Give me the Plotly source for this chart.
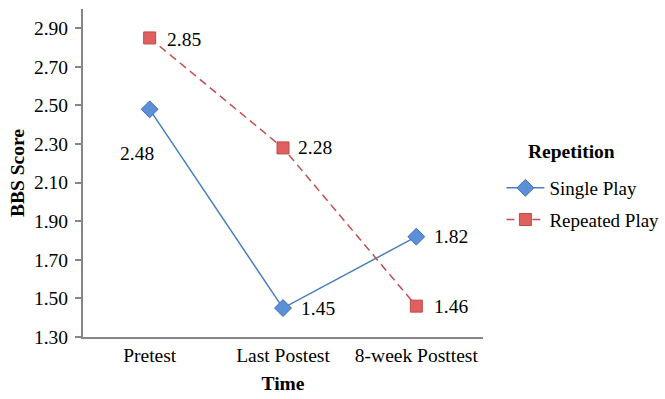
import plotly.graph_objects as go

# Mean BBS scores by measurement time and repetition condition
times = ["Pretest", "Last Postest", "8-week Posttest"]
single_play = [2.48, 1.45, 1.82]
repeated_play = [2.85, 2.28, 1.46]
y_ticks = [1.30, 1.50, 1.70, 1.90, 2.10, 2.30, 2.50, 2.70, 2.90]

FONT = "Liberation Serif, Times New Roman, serif"
FS = 19.5
AXIS_GREY = "#868686"

fig = go.Figure()
fig.add_trace(go.Scatter(
    x=times, y=single_play, name="Single Play", mode="lines+markers",
    legendgroup="single",
    line=dict(color="#4A7EBB", width=1.5),
    marker=dict(symbol="diamond", size=13, color="#5B8FD8",
                line=dict(color="#3D6FB4", width=1)),
))
fig.add_trace(go.Scatter(
    x=times, y=repeated_play, name="Repeated Play", mode="lines+markers",
    legendgroup="repeated",
    line=dict(color="#C0504D", width=1.5, dash="8px,5px"),
    marker=dict(symbol="square", size=12, color="#E06060",
                line=dict(color="#BE4B48", width=1)),
))

# value labels next to each point (shift in pixels from the point)
single_shift = [(-13, -44), (16, 0), (16, 0)]
repeated_shift = [(15, -2), (13, 0), (16, 0)]
single_anchor = ["center", "left", "left"]
for t, v, (dx, dy), xa in zip(times, single_play, single_shift, single_anchor):
    fig.add_annotation(x=t, y=v, text=f"{v:.2f}", showarrow=False,
                       xanchor=xa, yanchor="middle", xshift=dx, yshift=dy,
                       font=dict(family=FONT, size=FS, color="black"))
for t, v, (dx, dy) in zip(times, repeated_play, repeated_shift):
    fig.add_annotation(x=t, y=v, text=f"{v:.2f}", showarrow=False,
                       xanchor="left", yanchor="middle", xshift=dx, yshift=dy,
                       font=dict(family=FONT, size=FS, color="black"))

# legend heading
fig.add_annotation(xref="paper", yref="paper", x=1.222, y=0.567,
                   text="<b>Repetition</b>", showarrow=False,
                   xanchor="center", yanchor="middle",
                   font=dict(family=FONT, size=FS, color="black"))

fig.update_layout(
    width=665, height=399,
    margin=dict(l=83, r=182, t=9, b=62, autoexpand=False),
    paper_bgcolor="white", plot_bgcolor="white",
    font=dict(family=FONT, size=FS, color="black"),
    showlegend=True,
    legend=dict(
        xref="container", yref="container",
        x=0.754, xanchor="left", y=0.5765, yanchor="top",
        font=dict(family=FONT, size=19),
        itemwidth=38,
        bgcolor="rgba(0,0,0,0)", tracegroupgap=4, traceorder="grouped",
    ),
    xaxis=dict(
        type="category", range=[-0.5, 2.5], automargin=False,
        showline=True, linecolor=AXIS_GREY, linewidth=2,
        ticks="", showgrid=False, zeroline=False,
        tickfont=dict(family=FONT, size=FS),
        title=dict(text="<b>Time</b>", font=dict(family=FONT, size=FS),
                   standoff=11),
    ),
    yaxis=dict(
        range=[1.30, 3.00], tickvals=y_ticks, automargin=False,
        ticktext=[f"{v:.2f}" for v in y_ticks],
        showline=True, linecolor=AXIS_GREY, linewidth=2,
        ticks="outside", ticklen=6, tickcolor=AXIS_GREY, tickwidth=1.5,
        ticklabelstandoff=3,
        showgrid=False, zeroline=False,
        tickfont=dict(family=FONT, size=FS),
        title=dict(text="<b>BBS Score</b>", font=dict(family=FONT, size=FS),
                   standoff=4),
    ),
)

fig.write_html("out.html")
